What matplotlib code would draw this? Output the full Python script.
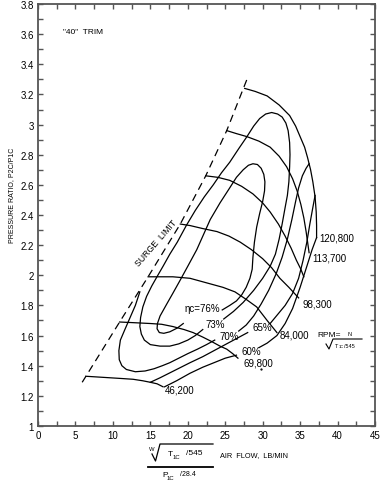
import matplotlib
matplotlib.use('Agg')
import matplotlib.pyplot as plt
from matplotlib.ticker import MultipleLocator, FuncFormatter
from matplotlib.lines import Line2D

plt.rcParams['font.family'] = ['Liberation Sans', 'DejaVu Sans']

# ---------------- data ----------------
surge_x = [5.9, 10.9, 14.7, 19.0, 22.4, 25.2, 27.9]
surge_y = [1.29, 1.69, 1.99, 2.34, 2.66, 2.96, 3.30]

n46200_x = [6.4, 8.0, 9.6, 11.2, 12.7, 14.0, 15.0, 15.9, 16.7]
n46200_y = [1.33, 1.325, 1.32, 1.315, 1.31, 1.30, 1.29, 1.28, 1.26]
n69800_x = [10.9, 13.0, 15.0, 16.5, 18.0, 19.5, 20.7, 22.0, 23.2, 24.3, 25.2, 26.0, 26.7]
n69800_y = [1.69, 1.685, 1.68, 1.675, 1.66, 1.64, 1.62, 1.59, 1.56, 1.53, 1.51, 1.48, 1.45]
n84000_x = [14.7, 16.5, 18.0, 20.3, 22.5, 24.7, 26.3, 27.8, 29.2, 30.6, 31.9]
n84000_y = [1.99, 1.99, 1.99, 1.98, 1.95, 1.92, 1.89, 1.84, 1.79, 1.70, 1.62]
n98300_x = [19.0, 20.3, 22.0, 23.9, 25.5, 27.0, 28.5, 30.0, 31.2, 32.3, 33.5, 34.8]
n98300_y = [2.34, 2.33, 2.31, 2.29, 2.26, 2.22, 2.17, 2.11, 2.05, 1.98, 1.92, 1.85]
n106000_x = [22.4, 24.0, 25.6, 27.2, 28.7, 30.0, 31.0, 32.1, 33.0, 33.8, 34.5, 35.1, 35.5]
n106000_y = [2.66, 2.65, 2.63, 2.59, 2.54, 2.48, 2.42, 2.34, 2.26, 2.18, 2.10, 2.04, 1.99]
n113700_x = [25.2, 26.5, 27.9, 29.5, 31.0, 32.2, 33.2, 34.0, 34.6, 35.1, 35.5, 35.8, 36.0, 36.2]
n113700_y = [2.96, 2.94, 2.92, 2.89, 2.85, 2.79, 2.72, 2.64, 2.56, 2.47, 2.38, 2.29, 2.22, 2.15]
n120800_x = [27.6, 29.0, 30.6, 32.2, 33.6, 34.4, 35.0, 35.6, 36.0, 36.4, 36.7, 37.0, 37.15, 37.2, 37.2]
n120800_y = [3.24, 3.22, 3.19, 3.13, 3.06, 2.99, 2.92, 2.85, 2.78, 2.70, 2.62, 2.52, 2.42, 2.33, 2.25]

eff76_x = [19.4, 18.6, 17.6, 16.8, 16.2, 15.9, 15.95, 16.3, 17.2, 18.0, 18.9, 20.0, 21.2, 22.1,
           23.0, 24.3, 25.6, 26.5, 27.4, 28.1, 28.7, 29.3, 29.8, 30.15, 30.3, 30.25, 30.0,
           29.6, 29.2, 28.9, 28.7, 28.6, 28.3, 27.8, 27.2, 26.5, 25.6, 24.6]
eff76_y = [1.68, 1.65, 1.625, 1.615, 1.62, 1.645, 1.68, 1.73, 1.81, 1.88, 1.96, 2.06, 2.17, 2.27,
           2.37, 2.48, 2.58, 2.65, 2.70, 2.73, 2.74, 2.735, 2.71, 2.67, 2.62, 2.56, 2.49,
           2.41, 2.32, 2.22, 2.12, 2.04, 1.98, 1.92, 1.87, 1.83, 1.80, 1.77]
eff73_x = [22.0, 21.0, 20.0, 18.8, 17.6, 16.3, 15.0, 14.2, 13.8, 13.6, 13.7, 14.0, 14.5, 15.2,
           16.0, 16.7, 17.6, 18.6, 19.8, 21.0, 22.2, 23.4, 24.5, 25.6, 26.8, 27.9, 28.8, 29.6,
           30.4, 31.2, 32.0, 32.6, 33.1, 33.4, 33.6, 33.65, 33.6, 33.5, 33.3, 33.0, 32.6, 32.2,
           31.7, 31.0, 30.0, 28.8, 27.4, 26.1, 24.8]
eff73_y = [1.64, 1.60, 1.57, 1.545, 1.53, 1.53, 1.54, 1.57, 1.61, 1.66, 1.72, 1.79, 1.86, 1.93,
           2.00, 2.06, 2.14, 2.22, 2.33, 2.43, 2.52, 2.60, 2.68, 2.75, 2.84, 2.92, 2.99, 3.04,
           3.07, 3.08, 3.07, 3.05, 3.01, 2.96, 2.88, 2.80, 2.72, 2.62, 2.53, 2.45, 2.34, 2.24,
           2.14, 2.06, 1.98, 1.90, 1.82, 1.76, 1.71]
eff70_x = [13.6, 13.0, 12.3, 11.6, 11.0, 10.8, 10.85, 11.2, 11.8, 13.0, 14.3, 15.5, 16.6, 17.6,
           18.8, 20.0, 21.3, 22.5, 23.6]
eff70_y = [1.89, 1.80, 1.72, 1.64, 1.57, 1.50, 1.44, 1.40, 1.375, 1.36, 1.365, 1.38, 1.40, 1.42,
           1.45, 1.48, 1.51, 1.54, 1.57]
eff70b_x = [26.8, 27.8, 28.8, 29.8, 30.8, 31.8, 32.6, 33.3, 33.9, 34.4, 34.8, 35.3, 35.8, 36.2]
eff70b_y = [1.63, 1.67, 1.73, 1.81, 1.90, 2.01, 2.12, 2.24, 2.37, 2.49, 2.58, 2.66, 2.71, 2.74]
eff65_x = [15.0, 16.3, 17.5, 18.9, 20.3, 22.0, 23.5, 25.0, 26.5, 28.0]
eff65_y = [1.29, 1.32, 1.35, 1.385, 1.42, 1.46, 1.50, 1.54, 1.58, 1.62]
eff65b_x = [31.0, 32.0, 33.0, 34.0, 34.8, 35.4, 35.9, 36.3, 36.7, 37.0]
eff65b_y = [1.68, 1.74, 1.80, 1.88, 1.98, 2.10, 2.22, 2.34, 2.45, 2.53]
eff60_x = [16.9, 18.5, 20.3, 22.0, 23.5, 25.0, 26.5]
eff60_y = [1.26, 1.30, 1.35, 1.39, 1.42, 1.45, 1.47]
eff60b_x = [29.5, 30.6, 31.9, 33.0, 34.0, 35.0, 35.9, 36.6, 37.2]
eff60b_y = [1.52, 1.55, 1.60, 1.68, 1.78, 1.92, 2.06, 2.17, 2.25]

speed_labels = ['120,800', '113,700', '98,300', '84,000', '69,800', '46,200']
speed_label_x = [37.5, 36.6, 35.3, 32.3, 27.4, 16.9]
speed_label_y = [2.25, 2.12, 1.81, 1.61, 1.42, 1.24]
eff_labels = ['ηc=76%', '73%', '70%', '65%', '60%']
eff_label_x = [19.6, 22.3, 24.3, 28.6, 27.2]
eff_label_y = [1.78, 1.68, 1.60, 1.66, 1.50]

xticks = [0, 5, 10, 15, 20, 25, 30, 35, 40, 45]
yticks = [1.0, 1.2, 1.4, 1.6, 1.8, 2.0, 2.2, 2.4, 2.6, 2.8, 3.0, 3.2, 3.4, 3.6, 3.8]

# ---------------- figure ----------------
W, H = 380, 485
fig = plt.figure(figsize=(3.8, 4.85), dpi=100)
ax = fig.add_axes([38 / W, 1 - 427 / H, 337 / W, 422 / H])
ax.set_xlim(0, 45)
ax.set_ylim(1, 3.8)

lk = dict(color='black', lw=0.9, solid_joinstyle='round')
ax.plot(surge_x, surge_y, color='black', lw=0.9, dashes=(6, 4))
for xs, ys in [(n46200_x, n46200_y), (n69800_x, n69800_y), (n84000_x, n84000_y),
               (n98300_x, n98300_y), (n106000_x, n106000_y), (n113700_x, n113700_y),
               (n120800_x, n120800_y)]:
    ax.plot(xs, ys, **lk)
for xs, ys in [(eff76_x, eff76_y), (eff73_x, eff73_y), (eff70_x, eff70_y),
               (eff70b_x, eff70b_y), (eff65_x, eff65_y), (eff65b_x, eff65b_y),
               (eff60_x, eff60_y), (eff60b_x, eff60b_y)]:
    ax.plot(xs, ys, **lk)

ax.plot([29.8], [1.38], 'k.', ms=1.2)

# axis styling
ax.set_xticks(xticks)
ax.set_yticks(yticks)
ax.xaxis.set_minor_locator(MultipleLocator(2.5))
ax.yaxis.set_minor_locator(MultipleLocator(0.1))
ax.yaxis.set_major_formatter(FuncFormatter(lambda v, p: '%g' % v))
ax.tick_params(which='both', direction='in', top=True, right=True, length=3.5,
               width=1.0, color='#555555', labelsize=7, pad=3)
for s in ax.spines.values():
    s.set_color('#555555')
    s.set_linewidth(1.3)

fs = 7
for t, x, y in zip(speed_labels, speed_label_x, speed_label_y):
    ax.text(x, y, t, fontsize=fs, va='center', ha='left')
for t, x, y in zip(eff_labels, eff_label_x, eff_label_y):
    ax.text(x, y, t, fontsize=fs, va='center', ha='left')

ax.text(18.6, 2.35, 'SURGE  LIMIT', fontsize=6.3, rotation=49, va='baseline', ha='right',
        rotation_mode='anchor')
ax.text(3.3, 3.62, '"40"  TRIM', fontsize=6, va='center', ha='left')


def ftext(px, py, s, **kw):
    fig.text(px / W, 1 - py / H, s, **kw)


def fline(xs, ys, **kw):
    fig.add_artist(Line2D([x / W for x in xs], [1 - y / H for y in ys],
                          transform=fig.transFigure, color='black', **kw))


# RPM = N / sqrt(T1C/545)
ftext(317, 336, 'RPM=', fontsize=6, va='center', ha='left')
ftext(348, 334, 'N', fontsize=4, va='center', ha='left')
fline([326, 329, 333, 362], [345, 350, 340, 340], lw=0.8)
ftext(335, 346, 'T', fontsize=4, va='center', ha='left')
ftext(338.5, 347.5, '1C', fontsize=3, va='center', ha='left')
ftext(344, 346, '/545', fontsize=4, va='center', ha='left')

# y label
ftext(12, 195, 'PRESSURE RATIO, P2C/P1C', rotation=90, fontsize=5.0,
      va='center', ha='center')

# x label: W sqrt(T1C/545) / (P1C/28.4)  AIR FLOW, LB/MIN
ftext(149, 450, 'W', fontsize=4.2, va='center', ha='left')
fline([152, 155.5, 160, 213], [455, 462, 445, 445], lw=0.9)
ftext(168, 455, 'T', fontsize=6, va='center', ha='left')
ftext(172.5, 458, '1C', fontsize=4.3, va='center', ha='left')
ftext(186, 454, '/545', fontsize=6, va='center', ha='left')
fline([148, 213], [468, 468], lw=1.3)
ftext(162, 476, 'P', fontsize=6, va='center', ha='left')
ftext(166.5, 479, '1C', fontsize=4.3, va='center', ha='left')
ftext(180, 475, '/28.4', fontsize=5, va='center', ha='left')
ftext(220, 456, 'AIR  FLOW,  LB/MIN', fontsize=5.3, va='center', ha='left')

fig.savefig('out.png', dpi=100)
